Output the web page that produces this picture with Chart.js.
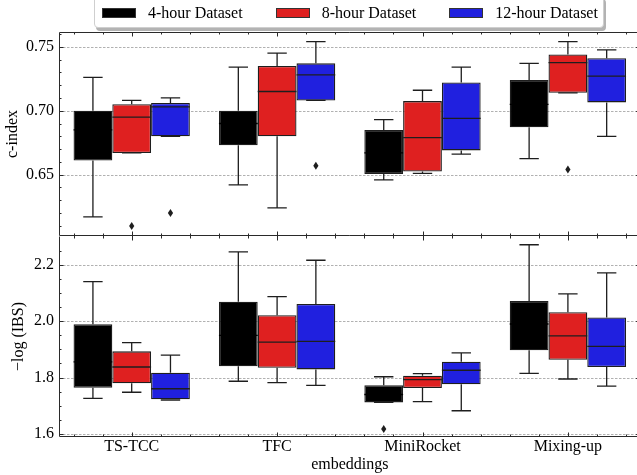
<!DOCTYPE html>
<html>
<head>
<meta charset="utf-8">
<script src="https://cdn.jsdelivr.net/npm/chart.js@4.4.0/dist/chart.umd.min.js"></script>
<style>
    html, body { margin: 0; padding: 0; background: #fff; overflow: hidden; }
    #wrap { position: relative; width: 637px; height: 475px; overflow: hidden; }
    #chart-top { position: absolute; left: 0; top: 0; }
    #chart-bottom { position: absolute; left: 0; top: 236px; }
    #legend {
        position: absolute; left: 94px; top: -4px; width: 510px; height: 32px;
        box-sizing: border-box; padding: 2px 0 0 7px;
        border: 1px solid #cfcfcf; border-radius: 4px; background: #fff;
        box-shadow: 2px 3px 0 #b3b3b3;
        display: flex; align-items: center; z-index: 2;
        font-family: 'Liberation Serif'; font-size: 16px; color: #000;
        white-space: nowrap;
    }
    .legend-item { display: flex; align-items: center; margin-right: 33px; flex-shrink: 0; }
    .legend-box { width: 34px; height: 10px; box-sizing: border-box; border: 1px solid #333; margin-right: 12px; flex-shrink: 0; }
</style>
</head>
<body>
<div id="wrap">
    <div id="legend"></div>
    <canvas id="chart-top" width="642" height="236"></canvas>
    <canvas id="chart-bottom" width="642" height="239"></canvas>
</div>
<script>
const categories = ["TS-TCC", "TFC", "MiniRocket", "Mixing-up"];
const seriesNames = ["4-hour Dataset", "8-hour Dataset", "12-hour Dataset"];
const seriesColors = ["#000000", "#df2020", "#2020df"];

// box summaries per category: [whisker low, q1, median, q3, whisker high]
const cIndex4h  = [[0.617, 0.661, 0.685, 0.700, 0.726], [0.642, 0.673, 0.690, 0.700, 0.734], [0.646, 0.6505, 0.667, 0.685, 0.693], [0.6625, 0.687, 0.705, 0.724, 0.737]];
const cIndex8h  = [[0.667, 0.667, 0.695, 0.705, 0.708], [0.624, 0.680, 0.715, 0.735, 0.745], [0.651, 0.6525, 0.679, 0.7075, 0.716], [0.714, 0.714, 0.7375, 0.744, 0.754]];
const cIndex12h = [[0.680, 0.680, 0.703, 0.706, 0.710], [0.708, 0.708, 0.728, 0.737, 0.754], [0.666, 0.669, 0.694, 0.722, 0.734], [0.680, 0.7065, 0.727, 0.741, 0.7475]];
// outliers: [series, category, value]
const cIndexOutliers = [[1, 0, 0.610], [2, 0, 0.620], [2, 1, 0.657], [1, 3, 0.654]];

const ibs4h  = [[1.7265, 1.764, 1.856, 1.989, 2.140], [1.787, 1.840, 1.950, 2.069, 2.246], [1.712, 1.712, 1.740, 1.773, 1.803], [1.815, 1.897, 1.990, 2.072, 2.271]];
const ibs8h  = [[1.748, 1.780, 1.8375, 1.893, 1.924], [1.782, 1.835, 1.926, 2.021, 2.087], [1.7145, 1.763, 1.7925, 1.8065, 1.814], [1.795, 1.863, 1.948, 2.032, 2.097]];
const ibs12h = [[1.7205, 1.723, 1.7605, 1.817, 1.880], [1.7725, 1.829, 1.9285, 2.061, 2.216], [1.6825, 1.776, 1.826, 1.856, 1.888], [1.770, 1.8375, 1.911, 2.0135, 2.171]];
const ibsOutliers = [[0, 2, 1.618]];

const cIndexTicks = { min: 0.6021, max: 0.7615, step: 0.05, minor: 0.01, digits: 2 };
const ibsTicks = { min: 1.5894, max: 2.302, step: 0.2, minor: 0.05, digits: 1 };

const edgeColor = "#1e1e1e";
const frameColor = "#2a2a2a";
const font = { family: "Liberation Serif", size: 16 };

Chart.defaults.font.family = "Liberation Serif";
Chart.defaults.color = "#000";

// legend
seriesNames.forEach((name, i) => {
    const item = document.createElement("div");
    item.className = "legend-item";
    item.innerHTML = `<span class="legend-box" style="background:${seriesColors[i]}"></span><span>${name}</span>`;
    document.getElementById("legend").appendChild(item);
});

function makeDatasets(summaries) {
    return summaries.map((series, d) => ({
        label: seriesNames[d],
        data: series.map(s => [s[1], s[3]]),
        backgroundColor: seriesColors[d],
        borderColor: edgeColor,
        borderWidth: 1.3,
        borderSkipped: false,
        barPercentage: 1.0,
        categoryPercentage: 0.8
    }));
}

function noPadding(s) {
    s.paddingTop = 0;
    s.paddingBottom = 0;
    s.paddingLeft = 0;
    s.paddingRight = 0;
}

function drawGrid(chart) {
    const { ctx, chartArea: a } = chart;
    const ys = chart.scales.y;
    ctx.save();
    ctx.strokeStyle = "#a8a8a8";
    ctx.lineWidth = 0.9;
    ctx.setLineDash([2.5, 1.5]);
    ys.ticks.forEach(t => {
        const y = Math.round(ys.getPixelForValue(t.value)) + 0.5;
        ctx.beginPath();
        ctx.moveTo(a.left, y);
        ctx.lineTo(a.right, y);
        ctx.stroke();
    });
    ctx.restore();
}

function drawBoxes(chart, summaries, outliers) {
    const ctx = chart.ctx;
    const ys = chart.scales.y;
    ctx.save();
    ctx.lineWidth = 1.3;
    summaries.forEach((series, d) => {
        const meta = chart.getDatasetMeta(d);
        series.forEach((s, i) => {
            const bar = meta.data[i];
            const x = bar.x, half = bar.width / 2;
            const [lo, q1, med, q3, hi] = s.map(v => ys.getPixelForValue(v));
            ctx.strokeStyle = edgeColor;
            ctx.beginPath();
            ctx.moveTo(x, q3); ctx.lineTo(x, hi);
            ctx.moveTo(x, q1); ctx.lineTo(x, lo);
            ctx.moveTo(x - half / 2, hi); ctx.lineTo(x + half / 2, hi);
            ctx.moveTo(x - half / 2, lo); ctx.lineTo(x + half / 2, lo);
            ctx.stroke();
            // median line, lost in the fill on the black boxes
            ctx.strokeStyle = seriesColors[d] === "#000000" ? "#000000" : edgeColor;
            ctx.beginPath();
            ctx.moveTo(x - half, med); ctx.lineTo(x + half, med);
            ctx.stroke();
        });
    });
    ctx.fillStyle = edgeColor;
    outliers.forEach(o => {
        const bar = chart.getDatasetMeta(o[0]).data[o[1]];
        const x = bar.x, y = ys.getPixelForValue(o[2]);
        ctx.beginPath();
        ctx.moveTo(x, y - 4);
        ctx.lineTo(x + 2.6, y);
        ctx.lineTo(x, y + 4);
        ctx.lineTo(x - 2.6, y);
        ctx.closePath();
        ctx.fill();
    });
    ctx.restore();
}

function drawFrame(chart, tickInfo, drawTop) {
    const { ctx, chartArea: a } = chart;
    const xs = chart.scales.x, ys = chart.scales.y;
    const l = a.left + 0.5, r = a.right - 0.5, t = a.top + 0.5, b = a.bottom - 0.5;
    ctx.save();
    ctx.strokeStyle = frameColor;
    ctx.lineWidth = 1;
    ctx.beginPath();
    if (drawTop) { ctx.moveTo(l, t); ctx.lineTo(r, t); }
    ctx.moveTo(l, t); ctx.lineTo(l, b); ctx.lineTo(r, b); ctx.lineTo(r, t);
    // y ticks, inward on both sides
    const first = Math.ceil(tickInfo.min / tickInfo.minor);
    const last = Math.floor(tickInfo.max / tickInfo.minor);
    const ratio = Math.round(tickInfo.step / tickInfo.minor);
    for (let k = first; k <= last; k++) {
        const y = Math.round(ys.getPixelForValue(k * tickInfo.minor)) + 0.5;
        if (y < a.top + 2 || y > a.bottom - 2) continue;
        const len = k % ratio === 0 ? 4.5 : 2.5;
        ctx.moveTo(a.left, y); ctx.lineTo(a.left + len, y);
        ctx.moveTo(a.right, y); ctx.lineTo(a.right - len, y);
    }
    // x ticks every fifth of a category, inward top and bottom
    for (let k = -2; k <= 17; k++) {
        const x = Math.round(xs.getPixelForValue(k * 0.2)) + 0.5;
        const len = k % 5 === 0 ? 4.5 : 2.5;
        ctx.moveTo(x, a.bottom); ctx.lineTo(x, a.bottom - len);
        ctx.moveTo(x, a.top); ctx.lineTo(x, a.top + len);
    }
    ctx.stroke();
    ctx.restore();
}

function makePlugin(summaries, outliers, tickInfo, drawTop) {
    return {
        id: "boxplot",
        beforeDatasetsDraw(chart) { drawGrid(chart); },
        afterDatasetsDraw(chart) { drawBoxes(chart, summaries, outliers); },
        afterDraw(chart) { drawFrame(chart, tickInfo, drawTop); }
    };
}

function yScale(tickInfo, title, titlePad) {
    return {
        min: tickInfo.min,
        max: tickInfo.max,
        afterFit: s => { s.width = 59; noPadding(s); },
        grid: { display: false, drawTicks: false },
        border: { display: false },
        ticks: {
            stepSize: tickInfo.step,
            includeBounds: false,
            padding: 5,
            font: font,
            color: "#000",
            callback: v => v.toFixed(tickInfo.digits)
        },
        title: { display: true, text: title, font: font, color: "#000", padding: { top: titlePad, bottom: 0 } }
    };
}

const cIndexData = [cIndex4h, cIndex8h, cIndex12h];
const ibsData = [ibs4h, ibs8h, ibs12h];

let chartTop = new Chart(document.getElementById("chart-top").getContext("2d"), {
    type: "bar",
    data: { labels: categories, datasets: makeDatasets(cIndexData) },
    options: {
        responsive: false,
        animation: false,
        layout: { padding: { top: 32, right: 1.4, left: 0, bottom: 0 } },
        plugins: { legend: { display: false }, tooltip: { enabled: false } },
        scales: {
            x: { display: false },
            y: yScale(cIndexTicks, "c-index", 3)
        }
    },
    plugins: [makePlugin(cIndexData, cIndexOutliers, cIndexTicks, true)]
});

let chartBottom = new Chart(document.getElementById("chart-bottom").getContext("2d"), {
    type: "bar",
    data: { labels: categories, datasets: makeDatasets(ibsData) },
    options: {
        responsive: false,
        animation: false,
        layout: { padding: { top: 0, right: 1.4, left: 0, bottom: 0 } },
        plugins: { legend: { display: false }, tooltip: { enabled: false } },
        scales: {
            x: {
                afterFit: s => { s.height = 38; noPadding(s); },
                grid: { display: false, drawTicks: false },
                border: { display: false },
                ticks: { font: font, color: "#000", padding: 0, maxRotation: 0 },
                title: { display: true, text: "embeddings", font: font, color: "#000", padding: { top: 0, bottom: 0.8 } }
            },
            y: yScale(ibsTicks, "\u2212log (IBS)", 9.4)
        }
    },
    plugins: [makePlugin(ibsData, ibsOutliers, ibsTicks, false)]
});
</script>
</body>
</html>
